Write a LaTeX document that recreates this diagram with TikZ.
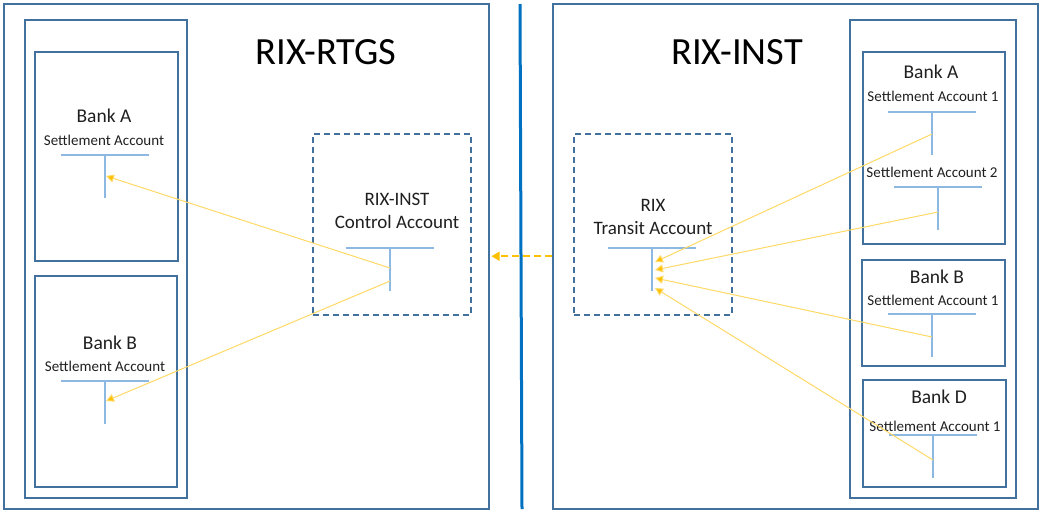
\documentclass[tikz,border=0pt]{standalone}
\usepackage{fontspec}
\setmainfont{Carlito}
\usetikzlibrary{arrows.meta, calc, positioning}

\definecolor{frameblue}{HTML}{41719C}
\definecolor{tblue}{HTML}{8DB8E2}
\definecolor{divblue}{HTML}{0070C0}
\definecolor{flowline}{HTML}{FFD966}
\definecolor{flowtip}{HTML}{FFC000}

\begin{document}
\begin{tikzpicture}[x=1pt, y=-1pt,
    every node/.style={inner sep=0pt, text=black!88},
    frame/.style={draw=frameblue, line width=1.5pt, anchor=north west},
    dbox/.style={frame, dash pattern=on 6pt off 4pt},
    tline/.style={draw=tblue, line width=1.2pt},
    flow/.style={draw=flowline, line width=1pt, -{Triangle[length=8pt, width=8pt, fill=flowtip]}},
    title/.style={font=\fontsize{38.5}{44}\selectfont, text=black},
    bank/.style={font=\fontsize{19.5}{23}\selectfont},
    acctname/.style={font=\fontsize{19}{23}\selectfont},
    acct/.style={font=\fontsize{15}{17}\selectfont}]

  \useasboundingbox (0,0) rectangle (1040,509);

  % RIX-RTGS side
  \node[frame, minimum width=485pt, minimum height=505pt] (rtgs) at (3,3) {};
  \node[frame, minimum width=162pt, minimum height=478pt] (rtgsbanks) at (24,19) {};
  \node[frame, minimum width=143pt, minimum height=209pt] (rtgsA) at (34,51) {};
  \node[frame, minimum width=142pt, minimum height=211pt] (rtgsB) at (34,275) {};
  \node[dbox, minimum width=158pt, minimum height=181pt] (ctrl) at (312,133) {};
  \node[title] (rtgstitle) at (326,52) {RIX-RTGS};
  \node[bank] (rtgsAname) at (104,116) {Bank A};
  \node[acct] (rtgsAacct) at (104,140) {Settlement Account};
  \node[bank] (rtgsBname) at (110,343) {Bank B};
  \node[acct] (rtgsBacct) at (105,366) {Settlement Account};
  \node[acctname, align=center] (ctrlname) at (397,211) {RIX-INST\\Control Account};

  % RIX-INST side
  \node[frame, minimum width=485pt, minimum height=505pt] (inst) at (552,3) {};
  \node[frame, minimum width=166pt, minimum height=478pt] (instbanks) at (849,19) {};
  \node[frame, minimum width=142pt, minimum height=192pt] (instA) at (862,51) {};
  \node[frame, minimum width=143pt, minimum height=106pt] (instB) at (861,259) {};
  \node[frame, minimum width=143pt, minimum height=107pt] (instD) at (862,379) {};
  \node[dbox, minimum width=158pt, minimum height=181pt] (transit) at (573,133) {};
  \node[title] (insttitle) at (737,52) {RIX-INST};
  \node[bank] (instAname) at (931,72) {Bank A};
  \node[acct] (instAacct1) at (933,96) {Settlement Account 1};
  \node[acct] (instAacct2) at (932,172) {Settlement Account 2};
  \node[bank] (instBname) at (937,277) {Bank B};
  \node[acct] (instBacct) at (933,300) {Settlement Account 1};
  \node[bank] (instDname) at (939,397) {Bank D};
  \node[acct] (instDacct) at (935,426) {Settlement Account 1};
  \node[acctname, align=center] (transitname) at (653,217) {RIX\\Transit Account};

  % T accounts
  \foreach \n/\x/\y in {tRA/105/155, tRB/105/381, tCtrl/390/248, tTransit/652/248,
                        tIA1/932/112, tIA2/938/187, tIB/932/314, tID/933/435} {
    \coordinate (\n) at (\x,\y);
    \draw[tline] ([xshift=-44pt]\n) -- ([xshift=44pt]\n);
    \draw[tline] (\n) -- ++(0,43);
  }

  % divider
  \draw[divblue, line width=3pt] (520,4) -- (522,509);

  % flows
  \draw[flowtip, line width=1.6pt, dash pattern=on 7pt off 4pt, -{Triangle[length=8pt, width=9pt]}]
    (inst.west) -- ([xshift=2pt]rtgs.east);
  \draw[flow] ($(tCtrl)+(0,20)$) -- ($(tRA)+(1,21)$);
  \draw[flow] ($(tCtrl)+(0,33)$) -- ($(tRB)+(1,20)$);
  \draw[flow] ($(tIA1)+(0,22)$) -- ($(tTransit)+(3,14)$);
  \draw[flow] ($(tIA2)+(0,25)$) -- ($(tTransit)+(3,22)$);
  \draw[flow] ($(tIB)+(0,23)$) -- ($(tTransit)+(3,30)$);
  \draw[flow] ($(tID)+(0,25)$) -- ($(tTransit)+(3,40)$);
\end{tikzpicture}
\end{document}
